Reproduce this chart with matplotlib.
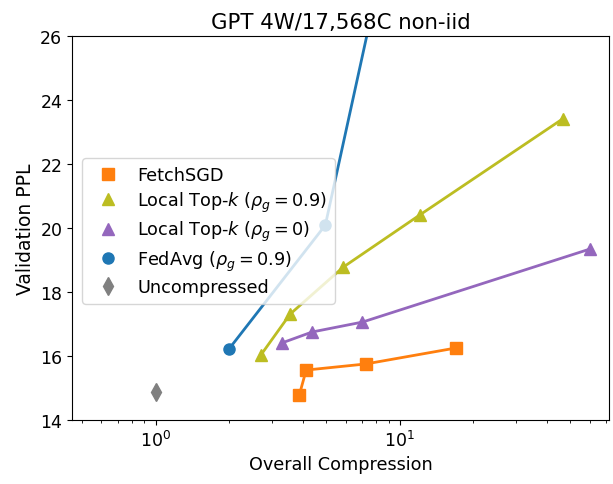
import matplotlib
matplotlib.use("Agg")
import matplotlib.pyplot as plt
from matplotlib.lines import Line2D

fetch_x = [3.88, 4.14, 7.25, 17.0]
fetch_y = [14.78, 15.56, 15.75, 16.25]

topk09_x = [2.70, 3.56, 5.88, 12.1, 46.5]
topk09_y = [16.03, 17.31, 18.78, 20.41, 23.41]

topk0_x = [3.30, 4.38, 7.04, 60.0]
topk0_y = [16.41, 16.75, 17.06, 19.34]

fedavg_x = [2.0, 4.96, 10.0]
fedavg_y = [16.22, 20.09, 30.7]

unc_x = [1.0]
unc_y = [14.87]

fig = plt.figure(figsize=(6.13, 4.85), dpi=100)
ax = fig.add_axes([0.1175, 0.132, 0.876, 0.7917])

ax.plot(fetch_x, fetch_y, color="#ff7f0e", marker="s", ms=8, lw=2, label="FetchSGD")
ax.plot(topk09_x, topk09_y, color="#bcbd22", marker="^", ms=8, lw=2,
        label=r"Local Top-$k$ ($\rho_g = 0.9$)")
ax.plot(topk0_x, topk0_y, color="#9467bd", marker="^", ms=8, lw=2,
        label=r"Local Top-$k$ ($\rho_g = 0$)")
ax.plot(fedavg_x, fedavg_y, color="#1f77b4", marker="o", ms=8, lw=2,
        label=r"FedAvg ($\rho_g = 0.9$)")
ax.plot(unc_x, unc_y, color="gray", marker="d", ms=9, lw=0, label="Uncompressed")

ax.set_xscale("log")
ax.set_xlim(0.455, 72)
ax.set_ylim(14, 26)
ax.set_yticks([14, 16, 18, 20, 22, 24, 26])
ax.tick_params(labelsize=12.5)
ax.set_xlabel("Overall Compression", fontsize=12.7)
ax.set_ylabel("Validation PPL", fontsize=13.5)
ax.set_title("GPT 4W/17,568C non-iid", fontsize=15.3)

handles, labels = ax.get_legend_handles_labels()
new_handles = [Line2D([], [], color=h.get_color(), marker=h.get_marker(),
                      ms=h.get_markersize(), lw=0) for h in handles]
ax.legend(new_handles, labels, loc="upper left", bbox_to_anchor=(0.003, 0.705),
          fontsize=12.7, framealpha=0.8, labelspacing=0.3, borderpad=0.45,
          handletextpad=0.65)

fig.savefig("out.png", dpi=100)
